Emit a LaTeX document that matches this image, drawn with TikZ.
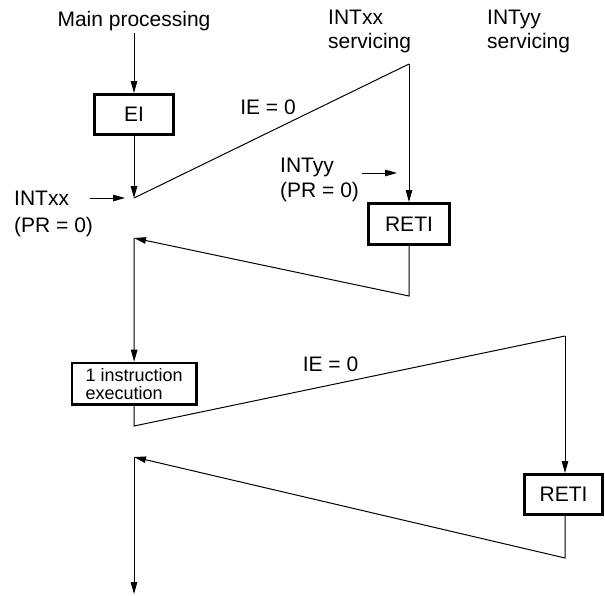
\documentclass[tikz,border=0pt]{standalone}
\usepackage{fontspec}
\setmainfont{Liberation Sans}
\usetikzlibrary{arrows.meta}
\begin{document}
\begin{tikzpicture}[x=1pt,y=-1pt,
  every node/.style={inner sep=0pt, font=\fontsize{21}{25}\selectfont},
  thinline/.style={line width=1pt},
  arr/.style={thinline,-{Triangle[length=12pt,width=6.5pt]}},
  boxnode/.style={draw, line width=2.6pt, inner sep=0pt},
  lbl/.style={align=left, anchor=north west}]
\useasboundingbox (0,0) rectangle (605,595);

% texts
\node[anchor=base] (mp) at (134,26) {Main processing};
\node[lbl, font=\fontsize{21}{27}\selectfont] (intxx) at (14,191) {INTxx\\(PR = 0)};
\node[lbl] (intyy) at (280,158) {INTyy\\(PR = 0)};
\node[lbl, font=\fontsize{21}{24}\selectfont] (svcx) at (328,10) {INTxx\\servicing};
\node[lbl, font=\fontsize{21}{24}\selectfont] (svcy) at (487,10) {INTyy\\servicing};
\node (ie1) at (268,107.5) {IE = 0};
\node (ie2) at (330.5,364) {IE = 0};

% boxes
\node[boxnode, minimum width=79.4pt, minimum height=40.4pt] (EI) at (134,114.5) {EI};
\node[boxnode, minimum width=81.4pt, minimum height=41.4pt] (R1) at (409,224) {RETI};
\node[boxnode, minimum width=124.4pt, minimum height=41.4pt, align=left,
      font=\fontsize{18}{18}\selectfont] (box2) at (134.2,383.7) {1 instruction\\execution};
\node[boxnode, minimum width=78.4pt, minimum height=40.4pt] (R2) at (563.5,494.5) {RETI};

% corner points
\coordinate (V1) at (134,198);
\coordinate (T1) at (409,64);
\coordinate (B1) at (409,296);
\coordinate (V2) at (134,238);
\coordinate (V3) at (134,426);
\coordinate (T2) at (565,336);
\coordinate (B2) at (565,558);
\coordinate (V4) at (134,457);
\coordinate (End) at (134,594);
\coordinate (xa) at (90,198);
\coordinate (xb) at (125,198);
\coordinate (ya) at (362,173);
\coordinate (yb) at (397,173);

% connectors
\draw[arr, shorten <=2pt] (mp) -- (EI);
\draw[arr] (EI) -- (V1);
\draw[arr] (xa) -- (xb);
\draw[thinline] (V1) -- (T1);
\draw[arr] (T1) -- (R1);
\draw[arr] (ya) -- (yb);
\draw[arr] (R1) -- (B1) -- (V2);
\draw[arr] (V2) -- (box2);
\draw[thinline] (box2) -- (V3) -- (T2);
\draw[arr] (T2) -- (T2 |- R2.north);
\draw[arr] (R2.south -| B2) -- (B2) -- (V4);
\draw[arr] (V4) -- (End);
\end{tikzpicture}
\end{document}
